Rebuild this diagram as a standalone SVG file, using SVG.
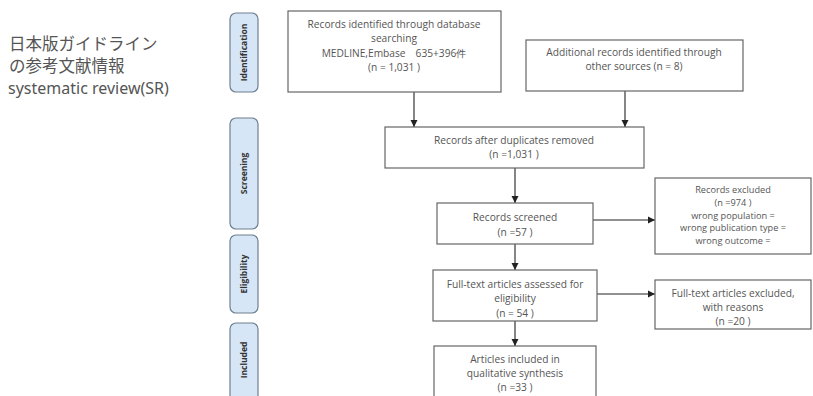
<svg xmlns="http://www.w3.org/2000/svg" width="813" height="396" viewBox="0 0 813 396">
<defs>
<style>
.box{fill:#fff;stroke:#666;stroke-width:1.2}
.side{fill:#d6e6f7;stroke:#6f7f8f;stroke-width:1.2}
.t{font-family:"Open Sans","Liberation Sans",sans-serif;font-size:10.2px;fill:#555;text-anchor:middle}
.t2{font-size:9.2px}
.s{font-family:"Open Sans","Liberation Sans",sans-serif;font-size:8.5px;font-weight:bold;fill:#333;text-anchor:middle}
.j{font-family:"Noto Sans","Noto Sans CJK JP",sans-serif;font-size:16.5px;fill:#555}
.e{font-family:"Noto Sans","Liberation Sans",sans-serif;font-size:16px;fill:#555}
.c{stroke:#222;stroke-width:1.1;fill:none;marker-end:url(#ah)}
</style>
<marker id="ah" markerWidth="8" markerHeight="8" refX="7" refY="4" orient="auto" markerUnits="userSpaceOnUse">
<path d="M0,0.5 L7,4 L0,7.5 Z" fill="#222"/>
</marker>
</defs>
<rect width="813" height="396" fill="#fff"/>
<g id="title">
<text class="j" x="9" y="50">日本版ガイドライン</text>
<text class="j" x="9" y="71.5">の参考文献情報</text>
<text class="e" x="8" y="94">systematic review(SR)</text>
</g>
<g id="side-identification">
<rect class="side" x="230" y="13" width="28" height="79" rx="6"/>
<text class="s" transform="translate(247,52.5) rotate(-90)">Identification</text>
</g>
<g id="side-screening">
<rect class="side" x="230" y="118" width="28" height="111" rx="6"/>
<text class="s" transform="translate(247,173.5) rotate(-90)">Screening</text>
</g>
<g id="side-eligibility">
<rect class="side" x="230" y="235" width="28" height="78" rx="6"/>
<text class="s" transform="translate(247,274) rotate(-90)">Eligibility</text>
</g>
<g id="side-included">
<rect class="side" x="230" y="323" width="28" height="80" rx="6"/>
<text class="s" transform="translate(247,360) rotate(-90)">Included</text>
</g>
<g id="connectors">
<line class="c" x1="414" y1="92" x2="414" y2="127"/>
<line class="c" x1="625" y1="91" x2="625" y2="127"/>
<line class="c" x1="515" y1="168" x2="515" y2="203"/>
<line class="c" x1="515" y1="244" x2="515" y2="270"/>
<line class="c" x1="515" y1="321" x2="515" y2="346"/>
<line class="c" x1="593" y1="220" x2="655" y2="220"/>
<line class="c" x1="597" y1="294" x2="655" y2="294"/>
</g>
<g id="n1">
<rect class="box" x="288" y="11" width="213" height="81"/>
<text class="t" x="394" y="28">Records identified through database</text>
<text class="t" x="394" y="42">searching</text>
<text class="t" x="394" y="57">MEDLINE,Embase　635+396件</text>
<text class="t" x="394" y="71">(n =  1,031 )</text>
</g>
<g id="n2">
<rect class="box" x="526" y="40" width="217" height="51"/>
<text class="t" x="634" y="56">Additional records identified through</text>
<text class="t" x="634" y="70">other sources (n = 8)</text>
</g>
<g id="n3">
<rect class="box" x="385" y="127" width="259" height="41"/>
<text class="t" x="514" y="144">Records after duplicates removed</text>
<text class="t" x="514" y="158">(n =1,031 )</text>
</g>
<g id="n4">
<rect class="box" x="437" y="203" width="156" height="41"/>
<text class="t" x="515" y="221">Records screened</text>
<text class="t" x="515" y="236">(n =57 )</text>
</g>
<g id="n5">
<rect class="box" x="655" y="178" width="156" height="76"/>
<text class="t t2" x="733" y="193">Records excluded</text>
<text class="t t2" x="733" y="205.8">(n =974 )</text>
<text class="t t2" x="733" y="218.6">wrong population =</text>
<text class="t t2" x="733" y="231.4">wrong publication type =</text>
<text class="t t2" x="733" y="244.2">wrong outcome =</text>
</g>
<g id="n6">
<rect class="box" x="433" y="270" width="164" height="51"/>
<text class="t" x="515" y="288">Full-text articles assessed for</text>
<text class="t" x="515" y="302">eligibility</text>
<text class="t" x="515" y="317">(n = 54  )</text>
</g>
<g id="n7">
<rect class="box" x="655" y="280" width="156" height="49"/>
<text class="t" x="733" y="297">Full-text articles excluded,</text>
<text class="t" x="733" y="311">with reasons</text>
<text class="t" x="733" y="325">(n =20  )</text>
</g>
<g id="n8">
<rect class="box" x="434" y="346" width="162" height="60"/>
<text class="t" x="515" y="363">Articles included in</text>
<text class="t" x="515" y="377">qualitative synthesis</text>
<text class="t" x="515" y="391">(n =33  )</text>
</g>
</svg>
